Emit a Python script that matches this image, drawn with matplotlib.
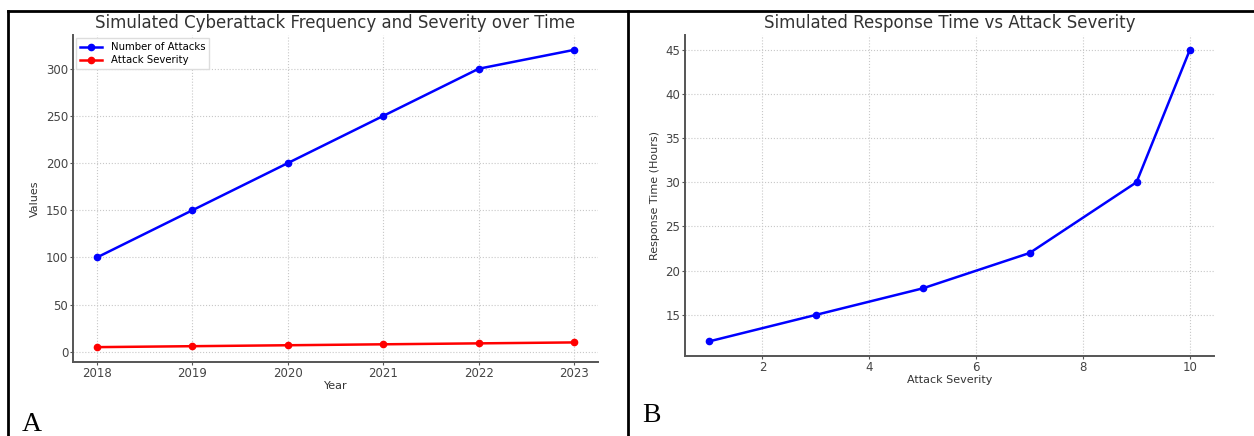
import matplotlib.pyplot as plt
from matplotlib.lines import Line2D

# Panel A data
years = [2018, 2019, 2020, 2021, 2022, 2023]
attacks = [100, 150, 200, 250, 300, 320]
severity = [5, 6, 7, 8, 9, 10]

# Panel B data
attack_severity = [1, 3, 5, 7, 9, 10]
response_hours = [12, 15, 18, 22, 30, 45]

W, H = 1254, 436
GRAY = "#444444"


def style_axes(ax):
    for side in ("top", "right"):
        ax.spines[side].set_visible(False)
    for side in ("left", "bottom"):
        ax.spines[side].set_color("#555555")
        ax.spines[side].set_linewidth(1.4)
    ax.tick_params(colors="#555555", labelcolor=GRAY, labelsize=8.5, length=2, width=0.8, pad=1.5)
    ax.grid(True, linestyle=":", color="#c8c8c8", linewidth=0.8)
    ax.set_axisbelow(True)


fig = plt.figure(figsize=(W / 100, H / 100), dpi=100)

# Panel A
ax1 = fig.add_axes([73 / W, 1 - 362 / H, 525 / W, 327 / H])
ax1.plot(years, attacks, color="blue", marker="o", markersize=4.5, linewidth=1.8, label="Number of Attacks")
ax1.plot(years, severity, color="red", marker="o", markersize=4.5, linewidth=1.8, label="Attack Severity")
style_axes(ax1)
ax1.set_title("Simulated Cyberattack Frequency and Severity over Time", fontsize=12, color="#333333", pad=5)
ax1.set_xlabel("Year", fontsize=8, color="#333333", labelpad=1)
ax1.set_ylabel("Values", fontsize=8, color="#333333", labelpad=4)
ax1.set_xticks(years)
ax1.legend(loc="upper left", fontsize=7.3, frameon=True, framealpha=1, edgecolor="#dddddd",
           fancybox=False, borderpad=0.4, labelspacing=0.3, handlelength=2.2, borderaxespad=0.3)

# Panel B
ax2 = fig.add_axes([685 / W, 1 - 356 / H, 529 / W, 321 / H])
ax2.plot(attack_severity, response_hours, color="blue", marker="o", markersize=4.5, linewidth=1.8)
style_axes(ax2)
ax2.set_title("Simulated Response Time vs Attack Severity", fontsize=12, color="#333333", pad=5)
ax2.set_xlabel("Attack Severity", fontsize=8, color="#333333", labelpad=1)
ax2.set_ylabel("Response Time (Hours)", fontsize=8, color="#333333", labelpad=4)

# table-like borders around the panels
for xs, ys in [([8 / W, 1], [1 - 11 / H] * 2),
               ([8 / W] * 2, [0, 1 - 11 / H]),
               ([628 / W] * 2, [0, 1 - 11 / H])]:
    fig.add_artist(Line2D(xs, ys, color="black", linewidth=2))

fig.text(22 / W, 1 - 431 / H, "A", fontsize=20, family="Liberation Serif", color="black")
fig.text(642 / W, 1 - 422 / H, "B", fontsize=20, family="Liberation Serif", color="black")

fig.savefig("out.png", dpi=100)
